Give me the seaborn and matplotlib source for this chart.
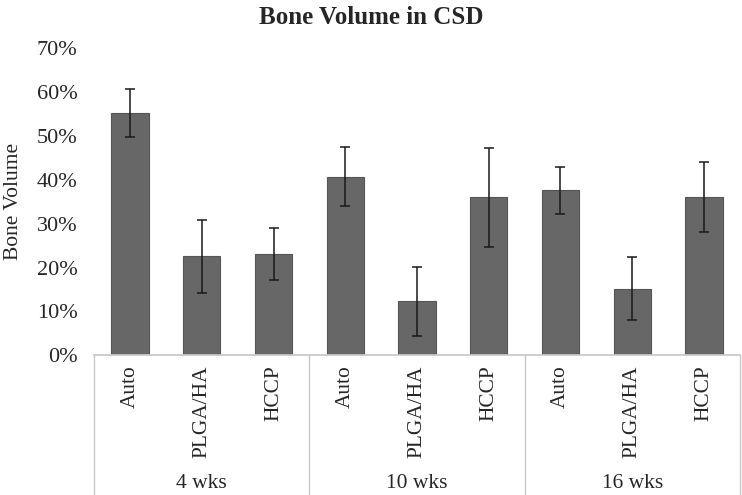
"""
plot.py — Bone Volume in CSD, grouped bar chart with two-level category axis.
"""

import matplotlib
matplotlib.use("Agg")
import matplotlib.pyplot as plt
import matplotlib.transforms as mtransforms
from matplotlib.ticker import PercentFormatter
import seaborn as sns
import pandas as pd

sns.set_theme(style="white")
plt.rcParams["font.family"] = ["Liberation Serif", "DejaVu Serif"]

# data
timepoints = ["4 wks", "10 wks", "16 wks"]
materials = ["Auto", "PLGA/HA", "HCCP"]
bone_volume = [55.2, 22.6, 23.0, 40.7, 12.3, 36.0, 37.6, 15.2, 36.0]
bone_err = [5.5, 8.3, 5.9, 6.7, 7.9, 11.3, 5.3, 7.1, 8.0]

df = pd.DataFrame({
    "slot": [f"{t}|{m}" for t in timepoints for m in materials],
    "material": materials * len(timepoints),
    "value": bone_volume,
    "err": bone_err,
})


def main():
    fig = plt.figure(figsize=(7.42, 4.95), dpi=100)
    ax = fig.add_axes([0.127, 0.282, 0.870, 0.621])

    sns.barplot(data=df, x="slot", y="value", order=df["slot"], color="#676767",
                width=0.52, saturation=1, edgecolor="#555555", linewidth=0.8,
                errorbar=None, ax=ax)
    ax.errorbar(range(len(df)), df["value"], yerr=df["err"], fmt="none",
                ecolor="#1a1a1a", elinewidth=1.1, capsize=3.3, capthick=1.1)

    ax.set_ylim(0, 70)
    ax.set_yticks(range(0, 71, 10))
    ax.yaxis.set_major_formatter(PercentFormatter(decimals=0))
    ax.tick_params(axis="y", labelsize=16, length=0, pad=12)
    ax.set_xlim(-0.5, len(df) - 0.5)
    ax.set_xticks(range(len(df)))
    ax.set_xticklabels(df["material"], rotation=90, fontsize=15.4)
    ax.tick_params(axis="x", length=0, pad=7)
    ax.set_xlabel("")
    ax.set_ylabel("Bone Volume", fontsize=15.5)
    ax.yaxis.set_label_coords(-0.111, 0.5)
    fig.text(0.5, 0.965, "Bone Volume in CSD", ha="center", va="center",
             fontsize=18, fontweight="bold")

    for side in ["left", "right", "top"]:
        ax.spines[side].set_visible(False)
    ax.spines["bottom"].set_color("#c8c8c8")

    # group separators and labels below the axis
    trans = mtransforms.blended_transform_factory(ax.transData, fig.transFigure)
    y0 = 0.282
    for i in range(len(timepoints) + 1):
        x = i * len(materials) - 0.5
        ax.plot([x, x], [y0, 0.0], transform=trans, color="#c8c8c8",
                lw=1.0, clip_on=False)
    for i, t in enumerate(timepoints):
        xc = i * len(materials) + 1
        ax.text(xc, 0.024, t, transform=trans, ha="center", va="center",
                fontsize=15.5)

    fig.savefig("out.png", dpi=100)
    plt.close(fig)


if __name__ == "__main__":
    main()
